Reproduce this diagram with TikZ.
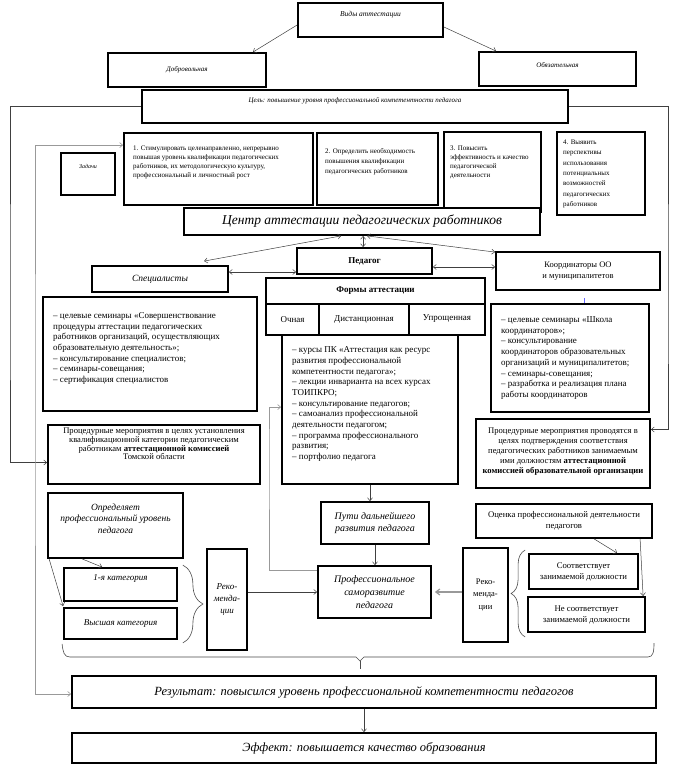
\documentclass[tikz,border=0pt]{standalone}
\usepackage{fontspec}
\setmainfont{Liberation Serif}
\usetikzlibrary{arrows.meta,decorations.pathreplacing,calc}
\newcommand\fs[2]{\fontsize{#1}{#2}\selectfont}
\tikzset{
  box/.style={draw, line width=1.8pt, fill=white, inner sep=1pt, align=center},
  con/.style={line width=0.5pt, draw=black!75, ->},
  dcon/.style={line width=0.5pt, draw=black!75, <->},
  gline/.style={line width=0.6pt, draw=black!40},
  txt/.style={anchor=north west, inner sep=0pt, align=left},
  ctxt/.style={anchor=north, inner sep=0pt, align=center},
  brc/.style={line width=0.6pt, draw=black!70},
}
% #1 options, #2 name, #3 x1, #4 y1, #5 x2, #6 y2, #7 text
\newcommand\bx[7][]{\node[box,minimum width={(#5-#3)*1pt},minimum height={(#6-#4)*1pt},#1] (#2) at ({(#3+#5)/2},{(#4+#6)/2}) {#7};}
\begin{document}
\begin{tikzpicture}[x=1pt,y=-1pt,>={Straight Barb[length=3pt,width=5pt]}]
\useasboundingbox[fill=white] (0,0) rectangle (685,771);

% ---------- top ----------
\bx[font=\itshape\fs{7.5}{9}]{vidy}{298}{3}{443}{37}{Виды аттестации\\[3pt]}
\bx[font=\itshape\fs{7}{8}]{dobr}{108}{53}{266}{87}{Добровольная}
\bx[font=\itshape\fs{7}{8}]{obyaz}{479}{52}{636}{86}{Обязательная\\[1pt]}
\bx[font=\itshape\fs{7}{8}]{cel}{142}{90}{568}{123}{Цель: повышение уровня профессиональной компетентности педагога\\[5pt]}

\draw[con] ([yshift=-5pt]vidy.west) -- ([xshift=-14pt]dobr.north east);
\draw[con] ([yshift=-7pt]vidy.east) -- ([xshift=18pt]obyaz.north west);

% ---------- tasks ----------
\bx[font=\itshape\fs{6}{7}]{zad}{61}{153}{115}{195}{Задачи\\[8pt]}
\bx{t1}{124}{133}{313}{205}{}
\node[txt,font=\fs{7}{9}] (t1t) at (133,145.5) {1. Стимулировать целенаправленно, непрерывно\\повышая уровень квалификации педагогических\\работников, их методологическую культуру,\\профессиональный и личностный рост};
\bx{t2}{317}{133}{438}{205}{}
\node[txt,font=\fs{7}{10}] (t2t) at (325,148.5) {2. Определить необходимость\\повышения квалификации\\педагогических работников};
\bx{t3}{444}{132}{541}{212}{}
\node[txt,font=\fs{7}{9}] (t3t) at (450,145.5) {3. Повысить\\эффективность и качество\\педагогической\\деятельности};
\bx{t4}{557}{132}{645}{215}{}
\node[txt,font=\fs{7}{10.4}] (t4t) at (563,139.5) {4. Выявить\\перспективы\\использования\\потенциальных\\возможностей\\педагогических\\работников};

\bx[font=\itshape\fs{13.5}{16}]{centr}{184}{208}{540}{235}{Центр аттестации педагогических работников}

% ---------- actors ----------
\bx[font=\bfseries\fs{9}{11}]{ped}{297}{248}{432}{274}{Педагог}
\bx[font=\itshape\fs{9.5}{11}]{spec}{92}{266}{228}{292}{Специалисты}
\bx[font=\fs{8.5}{11}]{coord}{496}{252}{660}{290}{Координаторы ОО\\и муниципалитетов}

\draw[dcon] ([xshift=158pt]centr.south west) -- ([xshift=113pt,yshift=4pt]spec.north west);
\draw[dcon] ([xshift=180pt]centr.south west) -- ([xshift=67pt]ped.north west);
\draw[dcon] ([xshift=184pt]centr.south west) -- ([yshift=-1pt]coord.north west);
\draw[dcon] ([yshift=7pt]spec.east) -- ([yshift=-11pt]ped.west);
\draw[dcon] ([yshift=-6pt]ped.east) -- ([yshift=4pt]coord.west);

% ---------- forms ----------
\bx[font=\bfseries\fs{9}{11}]{formy}{266}{278}{485}{304}{Формы аттестации}
\bx[font=\fs{9}{11}]{ochn}{266}{304}{319}{335}{Очная}
\bx[font=\fs{9}{11}]{dist}{319}{304}{409}{335}{Дистанционная}
\bx[font=\fs{9}{11}]{upr}{409}{304}{485}{335}{\raisebox{3pt}{Упрощенная}}

% ---------- lists ----------
\bx{slist}{43}{297}{257}{411}{}
\node[txt,font=\fs{9}{10.6}] (slt) at (53,312.5) {– целевые семинары «Совершенствование\\процедуры аттестации педагогических\\работников организаций, осуществляющих\\образовательную деятельность»;\\– консультирование специалистов;\\– семинары-совещания;\\– сертификация специалистов};

\bx{clist}{491}{304}{649}{412}{}
\node[txt,font=\fs{9}{10.7}] (clt) at (501,316.5) {– целевые семинары «Школа\\координаторов»;\\– консультирование\\координаторов образовательных\\организаций и муниципалитетов;\\– семинары-совещания;\\– разработка и реализация плана\\работы координаторов};
\draw[blue!60, line width=0.5pt] ([xshift=94pt]clist.north west) -- ++(0,-5);

\bx{olist}{282}{335}{458}{484}{}
\node[txt,font=\fs{9}{10.7}] (olt) at (292,346.5) {– курсы ПК «Аттестация как ресурс\\развития профессиональной\\компетентности педагога»;\\– лекции инварианта на всех курсах\\ТОИПКРО;\\– консультирование педагогов;\\– самоанализ профессиональной\\деятельности педагогом;\\– программа профессионального\\развития;\\– портфолио педагога};

% ---------- procedures ----------
\bx{lproc}{48}{425}{260}{484}{}
\node[ctxt,font=\fs{8.6}{8.7}] (lpt) at (154,428) {Процедурные мероприятия в целях установления\\квалификационной категории педагогическим\\работникам \textbf{аттестационной комиссией}\\Томской области};
\bx{rproc}{476}{419}{650}{488}{}
\node[ctxt,font=\fs{8.6}{10}] (rpt) at (563,428) {Процедурные мероприятия проводятся в\\целях подтверждения соответствия\\педагогических работников занимаемым\\ими должностям \textbf{аттестационной}\\\textbf{комиссией образовательной организации}};

\draw[con] (cel.west) -| (10,300) |- ([yshift=-8pt]lproc.west);
\draw[con] (cel.east) -| (668,300) |- ([yshift=24pt]rproc.east);

% ---------- lower part ----------
\bx[font=\itshape\fs{9.5}{11.5}]{opr}{48}{493}{183}{558}{Определяет\\профессиональный уровень\\педагога\\[3pt]}
\bx[font=\itshape\fs{10}{12}]{puti}{321}{502}{429}{544}{Пути дальнейшего\\развития педагога}
\bx[font=\fs{8.7}{11}]{ocen}{476}{504}{652}{538}{Оценка профессиональной деятельности\\педагогов}
\bx[font=\itshape\fs{9}{11}]{cat1}{64}{568}{177}{601}{1-я категория\\[3pt]}
\bx[font=\itshape\fs{9}{11}]{cat2}{64}{608}{177}{639}{Высшая категория}
\bx[font=\itshape\fs{9}{12}]{rekL}{207}{549}{247}{650}{Реко-\\менда-\\ции}
\bx[font=\itshape\fs{10}{13}]{prof}{318}{566}{431}{618}{Профессиональное\\саморазвитие\\педагога}
\bx[font=\fs{8.5}{12.5}]{rekR}{463}{548}{508}{642}{Реко-\\менда-\\ции}
\bx[font=\fs{8.7}{11}]{sootv}{529}{554}{638}{589}{Соответствует\\занимаемой должности}
\bx[font=\fs{8.7}{11}]{nesootv}{528}{597}{645}{632}{Не соответствует\\занимаемой должности}

\draw[con] (olist.south) -- (olist.south |- puti.north);
\draw[con] (puti.south) -- (puti.south |- prof.north);
\draw[gline, ->] ([yshift=-5pt]prof.north west) -| (269,450) |- ([yshift=-73pt]olist.north west);
\draw[con] ([xshift=35pt]opr.south west) -- ([xshift=39pt]cat1.north west);
\draw[con] ([xshift=2pt]opr.south west) -- ([yshift=1pt]cat2.north west);
\draw[con] (rekL.east |- prof.west) -- (prof.west);
\draw[gline, line width=1.2pt, -{Straight Barb[length=4pt,width=6pt]}] (rekR.west |- prof.east) -- ([xshift=3pt]prof.east);
\draw[con] ([xshift=119pt]ocen.south west) -- ([xshift=89pt]sootv.north west);
\draw[con] ([xshift=165pt]ocen.south west) -- ([xshift=116pt]nesootv.north west);

% braces
\draw[brc, decorate, decoration={brace, amplitude=20pt, aspect=0.5}] ([xshift=5pt,yshift=2pt]cat1.north east) -- ([xshift=5pt,yshift=-3pt]cat2.south east);
\draw[brc, decorate, decoration={brace, amplitude=14pt, aspect=0.5}] ([xshift=-2pt,yshift=-4pt]nesootv.south west) -- ([xshift=-3pt,yshift=3pt]sootv.north west);
\coordinate (bl) at ([xshift=-1pt,yshift=-4pt]cat2.south west);
\coordinate (br) at (654,643);
\draw[brc] (bl) .. controls (63,652) and (64,657) .. (70,657) -- (356,657) -- (360,661) -- (364,657) -- (648,657) .. controls (653,657) and (654,652) .. (br);
\draw[brc] (360,661) -- (360,669);

% ---------- results ----------
\bx[font=\itshape\fs{12.5}{14}]{res}{72}{676}{656}{708}{Результат: повысился уровень профессиональной компетентности педагогов}
\bx[font=\itshape\fs{12.5}{14}]{eff}{72}{733}{656}{763}{Эффект: повышается качество образования}
\draw[con] (res.south) -- (eff.north);
\draw[gline, <->] ([yshift=-13pt]t1.north west) -| (35,400) |- ([yshift=-2pt]res.west);
\end{tikzpicture}
\end{document}
